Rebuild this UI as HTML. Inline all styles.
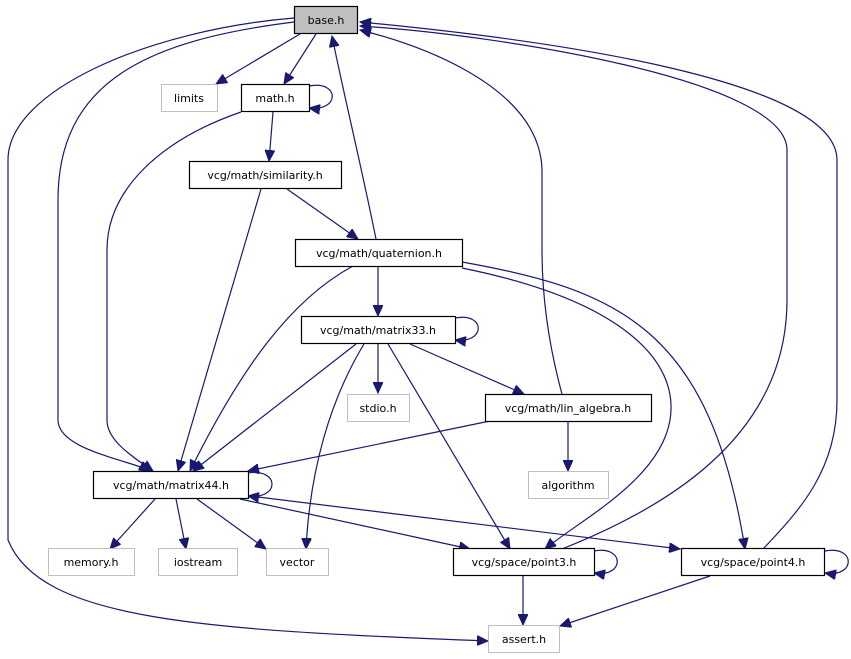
<!DOCTYPE html>
<html><head><meta charset="utf-8"><style>
html,body{margin:0;padding:0;background:#fff;}
svg{display:block;}
text{font-family:"DejaVu Sans","Liberation Sans",sans-serif;font-size:11px;fill:#000;text-anchor:middle;}
.e{fill:none;stroke:#191970;stroke-width:1.2;}
.n{fill:#fff;stroke:#000;stroke-width:1.2;}
.g{fill:#fff;stroke:#bfbfbf;stroke-width:1;}
</style></head><body>
<svg width="851" height="659" viewBox="0 0 851 659" xmlns="http://www.w3.org/2000/svg">
<defs>
<marker id="a" markerUnits="userSpaceOnUse" markerWidth="12" markerHeight="10" refX="11" refY="5" orient="auto">
<path d="M0,0 L11,5 L0,10 Z" fill="#191970" stroke="#191970"/>
</marker>
</defs>
<g marker-end="url(#a)">
<path class="e" d="M300,34 L216,84"/>
<path class="e" d="M316,34 L284,84"/>
<path class="e" d="M309,86 C340,80 340,112 309,108"/>
<path class="e" d="M273,112 L269,161"/>
<path class="e" d="M241,112 C160,140 107,190 107,250 L107,420 C107,440 130,455 153,471"/>
<path class="e" d="M287,189 L358,239"/>
<path class="e" d="M261,189 L178,471"/>
<path class="e" d="M376,239 C360,160 345,100 332,36"/>
<path class="e" d="M378,266 L378,316"/>
<path class="e" d="M353,266 C290,300 240,370 190,471"/>
<path class="e" d="M455,318 C486,312 486,344 455,340"/>
<path class="e" d="M388,344 L510,549"/>
<path class="e" d="M410,344 L524,394"/>
<path class="e" d="M378,344 L378,393"/>
<path class="e" d="M356,344 L193,471"/>
<path class="e" d="M364,344 C330,400 310,470 306,549"/>
<path class="e" d="M462,268 C620,300 680,360 670,420 C660,480 580,520 545,549"/>
<path class="e" d="M462,262 C620,290 710,330 745,549"/>
<path class="e" d="M562,394 C550,350 542,300 542,250 L542,170 C540,80 400,40 360,30"/>
<path class="e" d="M562,549 C660,510 787,440 787,300 L787,150 C787,80 500,35 360,26"/>
<path class="e" d="M763,549 C800,510 837,470 837,400 L837,160 C837,80 550,40 360,22"/>
<path class="e" d="M294,22 C150,40 58,80 58,200 L58,420 C58,450 130,460 150,471"/>
<path class="e" d="M294,18 C150,30 8,90 8,160 L8,540 C40,620 200,630 488,641"/>
<path class="e" d="M490,421 L248,471"/>
<path class="e" d="M568,421 L568,471"/>
<path class="e" d="M248,473 C280,468 280,500 248,496"/>
<path class="e" d="M155,499 L110,549"/>
<path class="e" d="M176,499 L186,549"/>
<path class="e" d="M197,499 L266,549"/>
<path class="e" d="M240,499 L470,549"/>
<path class="e" d="M250,496 L680,549"/>
<path class="e" d="M594,551 C625,545 625,578 594,573"/>
<path class="e" d="M825,551 C856,545 856,578 825,573"/>
<path class="e" d="M523,576 L523,625"/>
<path class="e" d="M710,576 L560,626"/>
</g>
<rect x="294.5" y="6.5" width="63" height="27" fill="#bfbfbf" stroke="#000" stroke-width="1.2"/><text x="326" y="24">base.h</text>
<rect class="g" x="161.5" y="84.5" width="56" height="27"/><text x="189" y="102">limits</text>
<rect class="n" x="241.5" y="84.5" width="68" height="27"/><text x="275" y="102">math.h</text>
<rect class="n" x="189.5" y="161.5" width="152" height="27"/><text x="265" y="179">vcg/math/similarity.h</text>
<rect class="n" x="295.5" y="239.5" width="167" height="27"/><text x="379" y="257">vcg/math/quaternion.h</text>
<rect class="n" x="301.5" y="316.5" width="154" height="27"/><text x="378" y="334">vcg/math/matrix33.h</text>
<rect class="g" x="347.5" y="394.5" width="62" height="27"/><text x="378" y="412">stdio.h</text>
<rect class="n" x="485.5" y="394.5" width="166" height="27"/><text x="568" y="412">vcg/math/lin_algebra.h</text>
<rect class="g" x="528.5" y="471.5" width="80" height="27"/><text x="568" y="489">algorithm</text>
<rect class="n" x="93.5" y="471.5" width="155" height="27"/><text x="171" y="489">vcg/math/matrix44.h</text>
<rect class="g" x="48.5" y="548.5" width="86" height="27"/><text x="91" y="566">memory.h</text>
<rect class="g" x="158.5" y="548.5" width="79" height="27"/><text x="198" y="566">iostream</text>
<rect class="g" x="266.5" y="548.5" width="62" height="27"/><text x="297" y="566">vector</text>
<rect class="n" x="453.5" y="548.5" width="141" height="27"/><text x="524" y="566">vcg/space/point3.h</text>
<rect class="n" x="681.5" y="548.5" width="143" height="27"/><text x="753" y="566">vcg/space/point4.h</text>
<rect class="g" x="488.5" y="625.5" width="71" height="27"/><text x="524" y="643">assert.h</text>
</svg>
</body></html>
